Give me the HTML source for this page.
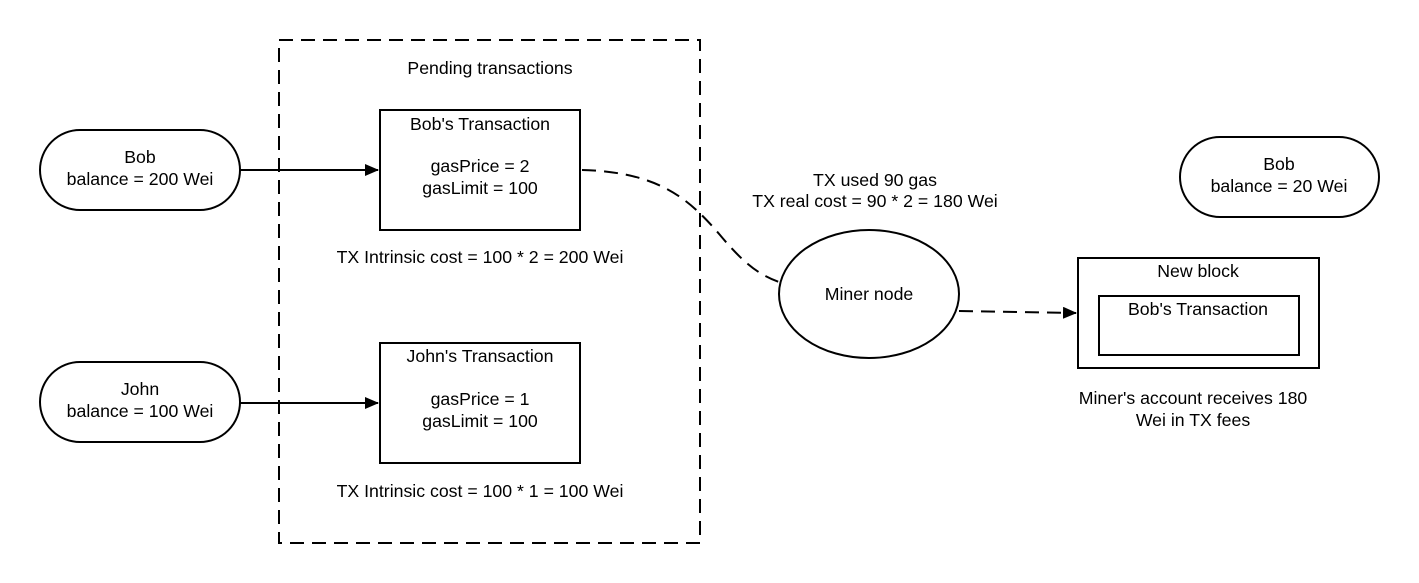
<!DOCTYPE html>
<html><head><style>
html,body{margin:0;padding:0;background:#fff;}
svg{display:block;}
text{font-family:"Liberation Sans",Arial,sans-serif;font-size:17.7px;fill:#000;text-anchor:middle;}
</style></head><body>
<svg width="1419" height="583" viewBox="0 0 1419 583">
<defs>
<marker id="ah" markerWidth="14" markerHeight="12" refX="13" refY="6" orient="auto" markerUnits="userSpaceOnUse">
<path d="M0,0 L14,6 L0,12 Z" fill="#000"/>
</marker>
</defs>
<g fill="none" stroke="#000" stroke-width="2">
<rect x="279" y="40" width="421" height="503" stroke-dasharray="14,8"/>
<rect x="40" y="130" width="200" height="80" rx="40"/>
<rect x="40" y="362" width="200" height="80" rx="40"/>
<rect x="380" y="110" width="200" height="120"/>
<rect x="380" y="343" width="200" height="120"/>
<ellipse cx="869" cy="294" rx="90" ry="64"/>
<rect x="1078" y="258" width="241" height="110"/>
<rect x="1099" y="296" width="200" height="59"/>
<rect x="1180" y="137" width="199" height="80" rx="40"/>
<line x1="240" y1="170" x2="378" y2="170" marker-end="url(#ah)"/>
<line x1="240" y1="403" x2="378" y2="403" marker-end="url(#ah)"/>
<path d="M582,170 C660,172 690,200 720,235 C745,265 760,275 779,282" stroke-dasharray="14,8"/>
<path d="M959,311 L1076,313" stroke-dasharray="14,8" marker-end="url(#ah)"/>
</g>
<text x="490" y="74">Pending transactions</text>
<text x="140" y="163">Bob</text>
<text x="140" y="185">balance = 200 Wei</text>
<text x="140" y="395">John</text>
<text x="140" y="417">balance = 100 Wei</text>
<text x="480" y="130">Bob's Transaction</text>
<text x="480" y="172">gasPrice = 2</text>
<text x="480" y="194">gasLimit = 100</text>
<text x="480" y="263">TX Intrinsic cost = 100 * 2 = 200 Wei</text>
<text x="480" y="362">John's Transaction</text>
<text x="480" y="405">gasPrice = 1</text>
<text x="480" y="427">gasLimit = 100</text>
<text x="480" y="497">TX Intrinsic cost = 100 * 1 = 100 Wei</text>
<text x="875" y="186">TX used 90 gas</text>
<text x="875" y="207">TX real cost = 90 * 2 = 180 Wei</text>
<text x="869" y="300">Miner node</text>
<text x="1279" y="170">Bob</text>
<text x="1279" y="192">balance = 20 Wei</text>
<text x="1198" y="277">New block</text>
<text x="1198" y="315">Bob's Transaction</text>
<text x="1193" y="404">Miner's account receives 180</text>
<text x="1193" y="426">Wei in TX fees</text>
</svg>
</body></html>
